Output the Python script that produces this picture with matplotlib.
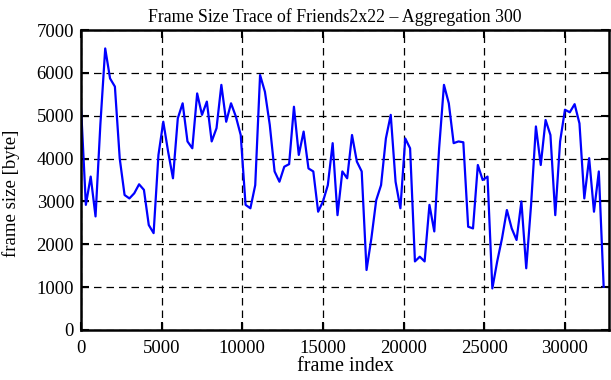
import matplotlib
matplotlib.use("Agg")
import matplotlib.pyplot as plt
import numpy as np

# frame index of each aggregated sample (one point per 300 frames)
frame_step = 300
frame_total = 32730
frame_size = [
    5210, 2920, 3580, 2650, 4800, 6570, 5870, 5680, 4000, 3150,
    3070, 3190, 3400, 3270, 2450, 2260, 4085, 4860, 4160, 3540,
    4940, 5290, 4400, 4240, 5520, 5020, 5330, 4400, 4710, 5720,
    4860, 5290, 4980, 4550, 2920, 2840, 3380, 5950, 5560, 4790,
    3700, 3460, 3810, 3870, 5210, 4085, 4630, 3770, 3700, 2760,
    3000, 3380, 4360, 2680, 3700, 3540, 4550, 3930, 3700, 1400,
    2140, 3030, 3380, 4470, 5020, 3460, 2840, 4470, 4240, 1600,
    1710, 1600, 2920, 2300, 4240, 5720, 5290, 4360, 4400, 4380,
    2410, 2370, 3850, 3500, 3580, 970, 1600, 2140, 2800, 2370,
    2100, 3000, 1440, 2920, 4750, 3850, 4900, 4550, 2680, 4400,
    5140, 5080, 5270, 4820, 3070, 4010, 2760, 3700, 1010,
]
frame_index = np.arange(len(frame_size)) * frame_step

plt.rcParams['font.family'] = ['Liberation Serif', 'DejaVu Serif']

fig = plt.figure(figsize=(6.11, 3.8), dpi=100)
ax = fig.add_axes([0.1326, 0.1316, 0.9967 - 0.1326, 0.921 - 0.1316])

ax.plot(frame_index, frame_size, color='#0000ff', lw=1.6)

ax.set_xlim(0, frame_total)
ax.set_ylim(0, 7000)
ax.set_xticks([0, 5000, 10000, 15000, 20000, 25000, 30000])
ax.set_yticks(np.arange(0, 7001, 1000))
ax.grid(True, color='black', linestyle=(0, (6, 4)), lw=0.9)
ax.tick_params(direction='in', length=6, width=1.5, top=True, right=True,
               labelsize=13.5)
ax.tick_params(axis='x', pad=7)
ax.tick_params(axis='y', pad=5)
for s in ax.spines.values():
    s.set_linewidth(1.8)

ax.set_title("Frame Size Trace of Friends2x22 \u2013 Aggregation 300",
             fontsize=12.8, x=0.48, pad=6)
ax.set_xlabel("frame index", fontsize=14.5, labelpad=0)
ax.set_ylabel("frame size [byte]", fontsize=13.5)
ax.yaxis.set_label_coords(-0.115, 0.457)

fig.savefig("out.png", dpi=100)
